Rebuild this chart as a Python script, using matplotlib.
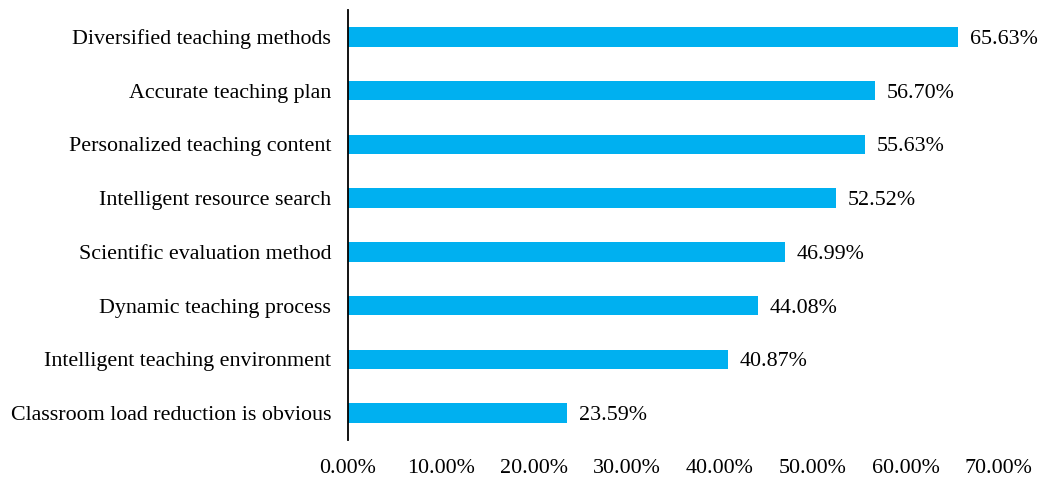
import matplotlib.pyplot as plt
from matplotlib.ticker import FuncFormatter

categories = [
    "Classroom load reduction is obvious",
    "Intelligent teaching environment",
    "Dynamic teaching process",
    "Scientific evaluation method",
    "Intelligent resource search",
    "Personalized teaching content",
    "Accurate teaching plan",
    "Diversified teaching methods",
]
values = [23.59, 40.87, 44.08, 46.99, 52.52, 55.63, 56.70, 65.63]
x_ticks = [0, 10, 20, 30, 40, 50, 60, 70]

plt.rcParams['font.family'] = ['Liberation Serif', 'DejaVu Serif']
fs = 15.8

fig = plt.figure(figsize=(10.38, 4.78), dpi=100)
ax = fig.add_axes([0.335, 0.0795, 0.627, 0.8995])

y = list(range(len(categories)))
ax.barh(y, values, height=0.36, color='#00B0F0')
for yi, v in zip(y, values):
    ax.text(v + 1.25, yi, f"{v:.2f}%", va='center_baseline', ha='left', fontsize=fs)

ax.set_xlim(0, 70)
ax.set_ylim(-0.5, 7.5)
ax.set_yticks(y)
ax.set_yticklabels(categories, fontsize=fs)
ax.set_xticks(x_ticks)
ax.xaxis.set_major_formatter(FuncFormatter(lambda v, p: f"{v:.2f}%"))
ax.tick_params(axis='x', labelsize=fs, length=0, pad=14)
ax.tick_params(axis='y', length=0, pad=12)

for s in ['top', 'right', 'bottom']:
    ax.spines[s].set_visible(False)
ax.spines['left'].set_linewidth(1.3)
ax.spines['left'].set_color('black')

fig.savefig('out.png', dpi=100)
